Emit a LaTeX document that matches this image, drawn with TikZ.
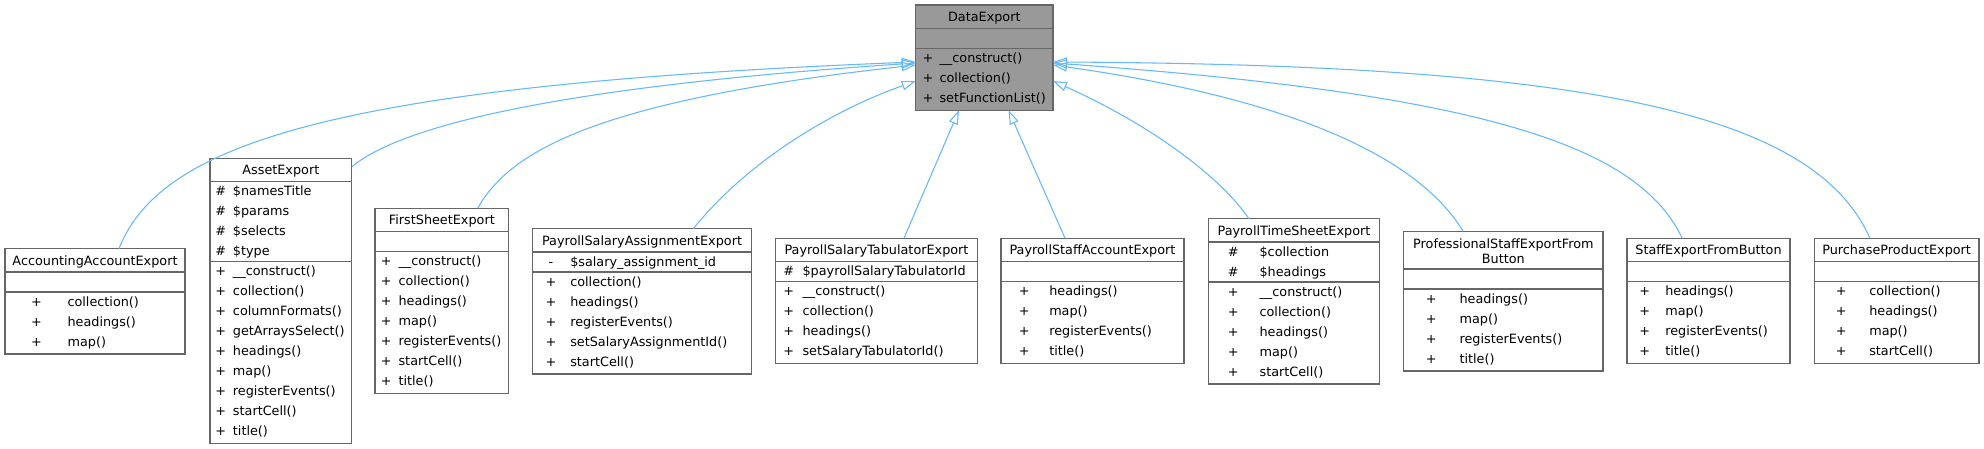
\documentclass[tikz,border=0pt]{standalone}
\usepackage{fontspec}
\setmainfont{DejaVu Sans}
\usetikzlibrary{fit,calc,arrows.meta}
\definecolor{gbord}{HTML}{666666}
\definecolor{gfill}{HTML}{999999}
\definecolor{edgec}{HTML}{63B8FF}
\tikzset{
 cls/.style={draw=gbord, line width=1.1pt, inner sep=0pt, outer sep=0pt, fill=white},
 clsbase/.style={cls, fill=gfill},
 sepline/.style={draw=gbord, line width=1.1pt},
 txt/.style={anchor=base west, inner sep=0pt, font=\fontsize{9.6}{11}\selectfont},
 sym/.style={anchor=base, inner sep=0pt, font=\fontsize{9.6}{11}\selectfont},
 ttl/.style={anchor=base, inner sep=0pt, font=\fontsize{9.6}{11}\selectfont},
 inh/.style={draw=edgec, line width=0.8pt, -{Triangle[open, length=10.5pt, width=7pt]}},
}
\newcommand\umlrows[5]{\foreach \sy/\nm [count=\i] in {#5} {\node[sym] (#1s\i) at (#2,{#4+20*(\i-1)}) {\sy}; \node[txt] (#1n\i) at (#3,{#4+20*(\i-1)}) {\nm};}}
\begin{document}
\begin{tikzpicture}[x=0.75pt,y=-0.75pt]
\fill[white] (0,0) rectangle (1984,449);
\useasboundingbox (0,0) rectangle (1984,449);
% DataExport
\node[clsbase, fit={(915.7,5) (1053,110.3)}] (de) {};
\node[ttl] (det) at (984.35,21.5) {DataExport};
\draw[sepline] (915.7,28.3) -- (1053,28.3);
\draw[sepline] (915.7,48.3) -- (1053,48.3);
\umlrows{dem}{928.1}{939.3}{62.6}{+/\_\_construct(),+/collection(),+/setFunctionList()}
% AccountingAccountExport
\node[cls, fit={(5,248.7) (185,354)}] (acc) {};
\node[ttl] (acct) at (95,265.2) {AccountingAccountExport};
\draw[sepline] (5,272) -- (185,272);
\draw[sepline] (5,292) -- (185,292);
\umlrows{accm}{36.5}{67.3}{306.3}{+/collection(),+/headings(),+/map()}
% AssetExport
\node[cls, fit={(210,158.3) (351.7,443.6)}] (ast) {};
\node[ttl] (astt) at (280.85,174.8) {AssetExport};
\draw[sepline] (210,181.6) -- (351.7,181.6);
\draw[sepline] (210,261.6) -- (351.7,261.6);
\umlrows{asta}{220.8}{232.7}{195.9}{\#/\$namesTitle,\#/\$params,\#/\$selects,\#/\$type}
\umlrows{astm}{220.8}{232.7}{275.9}{+/\_\_construct(),+/collection(),+/columnFormats(),+/getArraysSelect(),+/headings(),+/map(),+/registerEvents(),+/startCell(),+/title()}
% FirstSheetExport
\node[cls, fit={(375,208.3) (508.7,393.6)}] (fse) {};
\node[ttl] (fset) at (441.85,224.8) {FirstSheetExport};
\draw[sepline] (375,231.6) -- (508.7,231.6);
\draw[sepline] (375,251.6) -- (508.7,251.6);
\umlrows{fsem}{386.2}{398.3}{265.9}{+/\_\_construct(),+/collection(),+/headings(),+/map(),+/registerEvents(),+/startCell(),+/title()}
% PayrollSalaryAssignmentExport
\node[cls, fit={(532.7,228.7) (751.3,374)}] (psa) {};
\node[ttl] (psat) at (642,245.2) {PayrollSalaryAssignmentExport};
\draw[sepline] (532.7,252) -- (751.3,252);
\draw[sepline] (532.7,272) -- (751.3,272);
\umlrows{psaa}{551}{570}{266.3}{-/\$salary\_assignment\_id}
\umlrows{psam}{551}{570}{286.3}{+/collection(),+/headings(),+/registerEvents(),+/setSalaryAssignmentId(),+/startCell()}
% PayrollSalaryTabulatorExport
\node[cls, fit={(775.7,238.3) (977.3,363.6)}] (pst) {};
\node[ttl] (pstt) at (876.5,254.8) {PayrollSalaryTabulatorExport};
\draw[sepline] (775.7,261.6) -- (977.3,261.6);
\draw[sepline] (775.7,281.6) -- (977.3,281.6);
\umlrows{psta}{788.7}{802.3}{275.9}{\#/\$payrollSalaryTabulatorId}
\umlrows{pstm}{788.7}{802.3}{295.9}{+/\_\_construct(),+/collection(),+/headings(),+/setSalaryTabulatorId()}
% PayrollStaffAccountExport
\node[cls, fit={(1001,238.3) (1184,363.6)}] (psc) {};
\node[ttl] (psct) at (1092.5,254.8) {PayrollStaffAccountExport};
\draw[sepline] (1001,261.6) -- (1184,261.6);
\draw[sepline] (1001,281.6) -- (1184,281.6);
\umlrows{pscm}{1024.3}{1049}{295.9}{+/headings(),+/map(),+/registerEvents(),+/title()}
% PayrollTimeSheetExport
\node[cls, fit={(1208.7,218.7) (1379.3,384)}] (pts) {};
\node[ttl] (ptst) at (1294,235.2) {PayrollTimeSheetExport};
\draw[sepline] (1208.7,242) -- (1379.3,242);
\draw[sepline] (1208.7,282) -- (1379.3,282);
\umlrows{ptsa}{1233.2}{1259.3}{256.3}{\#/\$collection,\#/\$headings}
\umlrows{ptsm}{1233.2}{1259.3}{296.3}{+/\_\_construct(),+/collection(),+/headings(),+/map(),+/startCell()}
% ProfessionalStaffExportFromButton
\node[cls, fit={(1403.7,231.3) (1603,371)}] (pro) {};
\node[ttl] (prot1) at (1503.35,248) {ProfessionalStaffExportFrom};
\node[ttl] (prot2) at (1503.35,263) {Button};
\draw[sepline] (1403.7,269) -- (1603,269);
\draw[sepline] (1403.7,289) -- (1603,289);
\umlrows{prom}{1431.3}{1459.3}{303.3}{+/headings(),+/map(),+/registerEvents(),+/title()}
% StaffExportFromButton
\node[cls, fit={(1627,238.3) (1790,363.6)}] (sef) {};
\node[ttl] (seft) at (1708.5,254.8) {StaffExportFromButton};
\draw[sepline] (1627,261.6) -- (1790,261.6);
\draw[sepline] (1627,281.6) -- (1790,281.6);
\umlrows{sefm}{1644.8}{1665}{295.9}{+/headings(),+/map(),+/registerEvents(),+/title()}
% PurchaseProductExport
\node[cls, fit={(1814.3,238.3) (1979,363.6)}] (ppe) {};
\node[ttl] (ppet) at (1896.65,254.8) {PurchaseProductExport};
\draw[sepline] (1814.3,261.6) -- (1979,261.6);
\draw[sepline] (1814.3,281.6) -- (1979,281.6);
\umlrows{ppem}{1841.2}{1869}{295.9}{+/collection(),+/headings(),+/map(),+/startCell()}
% inheritance edges
\draw[inh] ($(acc.north west)!0.633!(acc.north east)$) .. controls (160,145) and (330,85) .. ($(de.north west)!0.541!(de.south west)$);
\draw[inh] ($(ast.north east)!0.03!(ast.south east)$) .. controls (390,135) and (510,90) .. ($(de.north west)!0.551!(de.south west)$);
\draw[inh] ($(fse.north west)!0.768!(fse.north east)$) .. controls (510,150) and (600,100) .. ($(de.north west)!0.57!(de.south west)$);
\draw[inh] ($(psa.north west)!0.735!(psa.north east)$) .. controls (740,170) and (820,115) .. ($(de.north west)!0.722!(de.south west)$);
\draw[inh] ($(pst.north west)!0.636!(pst.north east)$) -- ($(de.south west)!0.315!(de.south east)$);
\draw[inh] ($(psc.north west)!0.35!(psc.north east)$) -- ($(de.south west)!0.676!(de.south east)$);
\draw[inh] ($(pts.north west)!0.236!(pts.north east)$) .. controls (1215,170) and (1140,120) .. ($(de.north east)!0.722!(de.south east)$);
\draw[inh] ($(pro.north west)!0.298!(pro.north east)$) .. controls (1420,160) and (1300,100) .. ($(de.north east)!0.57!(de.south east)$);
\draw[inh] ($(sef.north west)!0.339!(sef.north east)$) .. controls (1640,150) and (1500,95) .. ($(de.north east)!0.551!(de.south east)$);
\draw[inh] ($(ppe.north west)!0.338!(ppe.north east)$) .. controls (1815,115) and (1600,65) .. ($(de.north east)!0.541!(de.south east)$);
\end{tikzpicture}
\end{document}
